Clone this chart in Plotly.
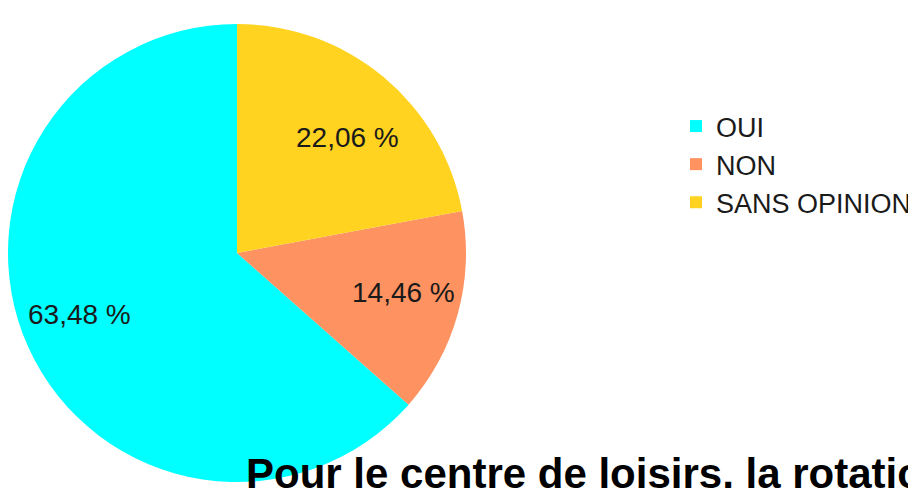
import math
import plotly.graph_objects as go

labels = ["OUI", "NON", "SANS OPINION"]
values = [63.48, 14.46, 22.06]
colors = ["#00FFFF", "#FF9261", "#FFD320"]
title_text = "Pour le centre de loisirs, la rotation"

texts = [f"{v:.2f}".replace(".", ",") + " %" for v in values]
total = sum(values)
# first slice (OUI) runs clockwise from the start angle, the others counterclockwise
start_rotation = (1 - values[0] / total) * 360

W, H = 916, 488
OFF = 8  # page body margin
cx, cy, r = 229, 253 - OFF, 229
LX, LY = 173, 150  # label placement radii (px) along each slice's middle angle


def px(x):
    return min(max(x / W, 0), 1)


def py(y):
    return min(max((H - y) / H, 0), 1)


fig = go.Figure(go.Pie(
    labels=labels,
    values=values,
    textinfo="none",
    marker=dict(colors=colors, line=dict(width=0)),
    sort=False,
    direction="counterclockwise",
    rotation=start_rotation,
    hoverinfo="label+percent",
    domain=dict(x=[px(cx - r), px(cx + r)], y=[py(cy + r), py(cy - r)]),
))

# slice middle angles, clockwise from 12 o'clock
mids = [start_rotation + values[0] / total * 360 / 2]  # OUI (clockwise from start)
acc = start_rotation
for v in values[1:]:
    mids.append(acc - v / total * 360 / 2)
    acc -= v / total * 360

for t, a in zip(texts, mids):
    rad = math.radians(a)
    fig.add_annotation(
        text=t, showarrow=False,
        xref="paper", yref="paper",
        x=(cx + LX * math.sin(rad)) / W, y=(H - (cy - LY * math.cos(rad))) / H,
        xanchor="center", yanchor="middle",
        font=dict(family="Liberation Sans", size=28, color="#1a1a1a"),
    )

fig.add_annotation(
    text="<b>" + title_text + "</b>",
    xref="paper", yref="paper",
    x=236 / W, y=(H - (473 - OFF)) / H,
    xanchor="left", yanchor="middle",
    showarrow=False,
    font=dict(family="Liberation Sans", size=42, color="#000000"),
)

fig.update_layout(
    width=W, height=H,
    margin=dict(l=0, r=0, t=0, b=0),
    paper_bgcolor="white",
    plot_bgcolor="white",
    showlegend=True,
    legend=dict(
        x=668 / W, y=(H - (102 - OFF)) / H,
        xanchor="left", yanchor="top",
        font=dict(family="Liberation Sans", size=27, color="#1a1a1a"),
        bgcolor="rgba(0,0,0,0)",
        traceorder="normal",
    ),
)

fig.write_html("out.html")
